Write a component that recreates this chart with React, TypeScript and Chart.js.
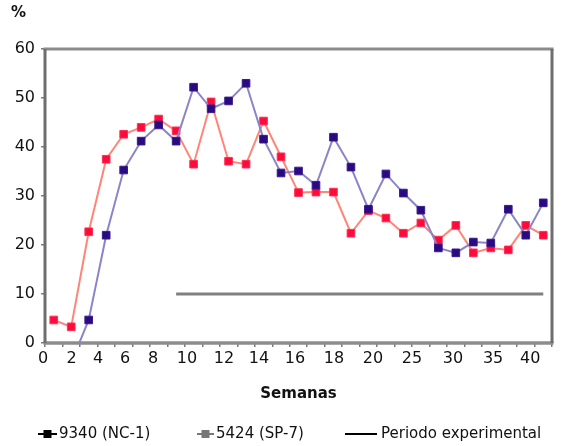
import React, { useEffect, useRef } from 'react';
import { Chart, registerables } from 'chart.js';

Chart.register(...registerables);

// ---- data ----
const weeks = ['1', '2', '3', '4', '5', '6', '7', '8', '9', '10', '11', '12', '13', '14', '15', '16', '17', '18', '19', '20', '21', '22', '23', '24', '25', '26', '27', '28', '29'];

const xTickLabels = ['0', '2', '4', '6', '8', '10', '12', '14', '16', '18', '20', '25', '30', '35', '40'];
// tick values on the label axis, expressed in category units
const xTickValues = [-0.61, 1.02, 2.53, 4.08, 5.68, 7.62, 9.74, 11.74, 13.8, 16.03, 18.26, 20.49, 22.84, 25.13, 27.25];

const yTickValues = [0, 10, 20, 30, 40, 50, 60];

const seriesNames = ['9340 (NC-1)', '5424 (SP-7)', 'Periodo experimental'];

const nc1Values = [null, -4, 4.7, 22, 35.3, 41.2, 44.5, 41.2, 52.2, 47.8, 49.4, 53, 41.6, 34.7, 35.1, 32.2, 42, 35.9, 27.3, 34.5, 30.6, 27.1, 19.4, 18.4, 20.6, 20.4, 27.3, 22, 28.6];
const sp7Values = [4.7, 3.3, 22.7, 37.5, 42.6, 44, 45.7, 43.3, 36.5, 49.2, 37.1, 36.5, 45.3, 38, 30.7, 30.8, 30.8, 22.4, 27, 25.5, 22.4, 24.5, 21, 24, 18.4, 19.4, 19, 24, 22];
const periodValues = [null, null, null, null, null, null, null, 10, 10, 10, 10, 10, 10, 10, 10, 10, 10, 10, 10, 10, 10, 10, 10, 10, 10, 10, 10, 10, 10];

const FONT = 'DejaVu Sans';

const decorPlugin = {
  id: 'decor',
  beforeDatasetsDraw(chart: any) {
    const { ctx, chartArea } = chart;
    const { left, right, top, bottom } = chartArea;
    ctx.save();
    ctx.lineWidth = 3;
    ctx.strokeStyle = '#8c8c8c';
    ctx.beginPath();
    ctx.moveTo(left - 1.5, top);
    ctx.lineTo(right + 1.5, top);
    ctx.stroke();
    ctx.lineWidth = 3.5;
    ctx.beginPath();
    ctx.moveTo(left - 1.5, bottom);
    ctx.lineTo(right + 1.5, bottom);
    ctx.stroke();
    ctx.lineWidth = 3;
    ctx.strokeStyle = '#6e6e6e';
    ctx.beginPath();
    ctx.moveTo(left, top);
    ctx.lineTo(left, bottom);
    ctx.moveTo(right, top);
    ctx.lineTo(right, bottom);
    ctx.stroke();
    ctx.restore();
  },
  afterDraw(chart: any) {
    const { ctx } = chart;
    const names = chart.data.datasets.map((d: any) => d.label);
    ctx.save();
    // "%" unit label
    ctx.fillStyle = '#111';
    ctx.font = `bold 15px "${FONT}"`;
    ctx.textBaseline = 'middle';
    ctx.textAlign = 'left';
    ctx.fillText('%', 11, 13);

    // legend
    const y = 434;
    const items = [
      { x0: 38, x1: 57, square: true, color: '#000000', tx: 59 },
      { x0: 197, x1: 214, square: true, color: '#777777', tx: 216 },
      { x0: 345, x1: 377, square: false, color: '#000000', tx: 381 },
    ];
    ctx.font = `15px "${FONT}"`;
    items.forEach((it, i) => {
      ctx.strokeStyle = it.color;
      ctx.fillStyle = it.color;
      ctx.lineWidth = 2;
      ctx.beginPath();
      ctx.moveTo(it.x0, y);
      ctx.lineTo(it.x1, y);
      ctx.stroke();
      if (it.square) {
        const cx = (it.x0 + it.x1) / 2;
        ctx.fillRect(cx - 4, y - 4, 8, 8);
      }
      ctx.fillStyle = '#111';
      ctx.fillText(names[i], it.tx, y);
    });
    ctx.restore();
  },
};

export default function App() {
  const canvasRef = useRef<HTMLCanvasElement | null>(null);

  useEffect(() => {
    if (!canvasRef.current) return;
    const chart = new Chart(canvasRef.current, {
      type: 'line',
      data: {
        labels: weeks,
        datasets: [
          {
            label: seriesNames[0],
            data: nc1Values,
            borderColor: '#8a84c8',
            borderWidth: 2,
            pointStyle: 'rect',
            pointRadius: 5.4,
            pointBackgroundColor: '#2a0a80',
            pointBorderColor: '#3a1a90',
            pointBorderWidth: 1,
            tension: 0,
            xAxisID: 'x',
            yAxisID: 'y',
          },
          {
            label: seriesNames[1],
            data: sp7Values,
            borderColor: '#ff8577',
            borderWidth: 2,
            pointStyle: 'rect',
            pointRadius: 5.4,
            pointBackgroundColor: '#ff0a3c',
            pointBorderColor: '#ff3050',
            pointBorderWidth: 1,
            tension: 0,
            xAxisID: 'x',
            yAxisID: 'y',
          },
          {
            label: seriesNames[2],
            data: periodValues,
            borderColor: '#808080',
            borderWidth: 3,
            pointRadius: 0,
            tension: 0,
            xAxisID: 'x',
            yAxisID: 'y',
          },
        ],
      } as any,
      options: {
        responsive: false,
        animation: false,
        layout: { padding: { top: 49, right: 11, bottom: 41, left: 0 } },
        plugins: {
          legend: { display: false },
          tooltip: { enabled: false },
          title: { display: false },
        },
        scales: {
          x: {
            type: 'category',
            position: 'bottom',
            weight: 0,
            offset: true,
            grid: {
              display: true,
              offset: true,
              drawOnChartArea: false,
              drawTicks: true,
              tickLength: 4,
              color: '#7a7a7a',
              lineWidth: 1.5,
            },
            border: { display: false },
            ticks: { display: false },
            afterFit: (s: any) => {
              s.height = 5;
            },
          },
          x2: {
            type: 'linear',
            position: 'bottom',
            weight: 1,
            min: -0.5,
            max: 28.5,
            bounds: 'data',
            grid: { display: false, drawTicks: false },
            border: { display: false },
            afterBuildTicks: (s: any) => {
              s.ticks = xTickValues.map((v) => ({ value: v }));
            },
            ticks: {
              autoSkip: false,
              maxRotation: 0,
              padding: 1,
              color: '#111',
              font: { family: FONT, size: 16 },
              callback: (_v: any, i: number) => xTickLabels[i],
            },
            title: {
              display: true,
              text: 'Semanas',
              color: '#111',
              font: { family: FONT, size: 15, weight: 'bold' },
              padding: { top: 4, bottom: 2 },
            },
            afterFit: (s: any) => {
              s.height = 57;
            },
          },
          y: {
            type: 'linear',
            min: 0,
            max: 60,
            afterBuildTicks: (s: any) => {
              s.ticks = yTickValues.map((v) => ({ value: v }));
            },
            grid: {
              drawOnChartArea: false,
              drawTicks: true,
              tickLength: 4,
              color: '#7a7a7a',
              lineWidth: 1.5,
            },
            border: { display: false },
            ticks: {
              padding: 6,
              color: '#111',
              font: { family: FONT, size: 16 },
            },
            afterFit: (s: any) => {
              s.width = 45;
            },
          },
        },
      } as any,
      plugins: [decorPlugin],
    });
    return () => chart.destroy();
  }, []);

  return (
    <div style={{ position: 'absolute', left: 0, top: 0, width: 563, height: 446, background: '#fff' }}>
      <canvas ref={canvasRef} width={563} height={446} style={{ display: 'block' }} />
    </div>
  );
}
